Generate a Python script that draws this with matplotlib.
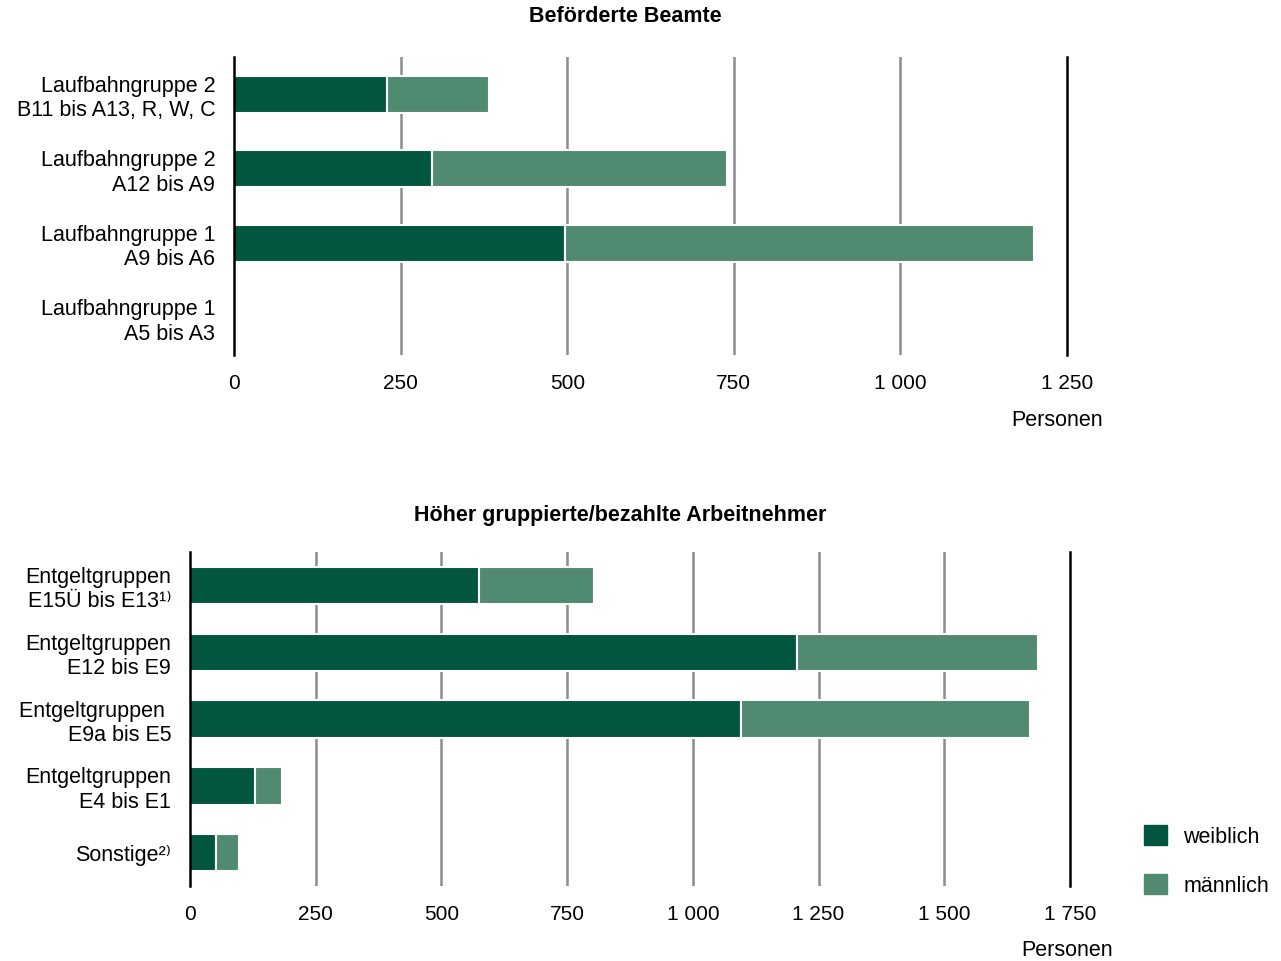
import matplotlib.pyplot as plt
from matplotlib.patches import Patch
from matplotlib.ticker import FuncFormatter

plt.rcParams['font.family'] = ['Liberation Sans', 'DejaVu Sans']

DARK = '#02553f'
LIGHT = '#508b71'
GRID = '#8c8c8c'

# Beförderte Beamte
beamte_labels = ['Laufbahngruppe 2\nB11 bis A13, R, W, C',
                 'Laufbahngruppe 2\nA12 bis A9',
                 'Laufbahngruppe 1\nA9 bis A6',
                 'Laufbahngruppe 1\nA5 bis A3']
beamte_weiblich = [230, 297, 497, 0]
beamte_maennlich = [153, 443, 703, 0]
beamte_ticks = [0, 250, 500, 750, 1000, 1250]

# Höher gruppierte/bezahlte Arbeitnehmer
an_labels = ['Entgeltgruppen\nE15Ü bis E13¹⁾',
             'Entgeltgruppen\nE12 bis E9',
             'Entgeltgruppen \nE9a bis E5',
             'Entgeltgruppen\nE4 bis E1',
             'Sonstige²⁾']
an_weiblich = [575, 1207, 1096, 129, 52]
an_maennlich = [228, 480, 574, 54, 45]
an_ticks = [0, 250, 500, 750, 1000, 1250, 1500, 1750]


def fmt(v, pos):
    return '{:,}'.format(int(v)).replace(',', ' ')


def draw(ax, labels, w, m, ticks, height):
    y = list(range(len(labels)))
    for i in y:
        if w[i] > 0:
            ax.barh(i, w[i], height=height, color=DARK, edgecolor='white', linewidth=1.5, zorder=3)
        if m[i] > 0:
            ax.barh(i, m[i], left=w[i], height=height, color=LIGHT, edgecolor='white', linewidth=1.5, zorder=3)
    ax.set_xlim(0, ticks[-1])
    ax.set_ylim(len(labels) - 0.5, -0.5)
    ax.set_xticks(ticks)
    ax.xaxis.set_major_formatter(FuncFormatter(fmt))
    for t in ticks[1:-1]:
        ax.axvline(t, color=GRID, linewidth=1.8, zorder=1)
    ax.set_yticks(y)
    ax.set_yticklabels(labels, fontsize=15.5, multialignment='right', linespacing=1.22)
    ax.tick_params(axis='both', length=0)
    ax.tick_params(axis='x', pad=14, labelsize=15)
    ax.tick_params(axis='y', pad=13.5)
    for s in ['top', 'bottom']:
        ax.spines[s].set_visible(False)
    for s in ['left', 'right']:
        ax.spines[s].set_linewidth(1.8)
        ax.spines[s].set_color('black')
        ax.spines[s].set_zorder(5)


fig = plt.figure(figsize=(12.81, 9.61), dpi=100)
ax1 = fig.add_axes([0.1827, 0.6306, 0.6503, 0.3101])
ax2 = fig.add_axes([0.1483, 0.078, 0.687, 0.3476])

draw(ax1, beamte_labels, beamte_weiblich, beamte_maennlich, beamte_ticks, 0.5)
draw(ax2, an_labels, an_weiblich, an_maennlich, an_ticks, 0.56)

fig.text(625 / 1281, 1 - 17 / 961, 'Beförderte Beamte', fontsize=15.5,
         fontweight='bold', ha='center', va='center')
fig.text(620 / 1281, 1 - 515 / 961, 'Höher gruppierte/bezahlte Arbeitnehmer', fontsize=15.5,
         fontweight='bold', ha='center', va='center')

fig.text(1057 / 1281, 1 - 420 / 961, 'Personen', fontsize=15.5, ha='center', va='center')
fig.text(1067 / 1281, 1 - 951 / 961, 'Personen', fontsize=15.5, ha='center', va='center')

handles = [Patch(color=DARK, label='weiblich'), Patch(color=LIGHT, label='männlich')]
fig.legend(handles=handles, loc='center left', bbox_to_anchor=(1125 / 1281, 1 - 861 / 961),
           frameon=False, fontsize=15.5, handlelength=1.05, handleheight=1.05,
           labelspacing=1.25, handletextpad=0.75)

fig.savefig('out.png', dpi=100)
